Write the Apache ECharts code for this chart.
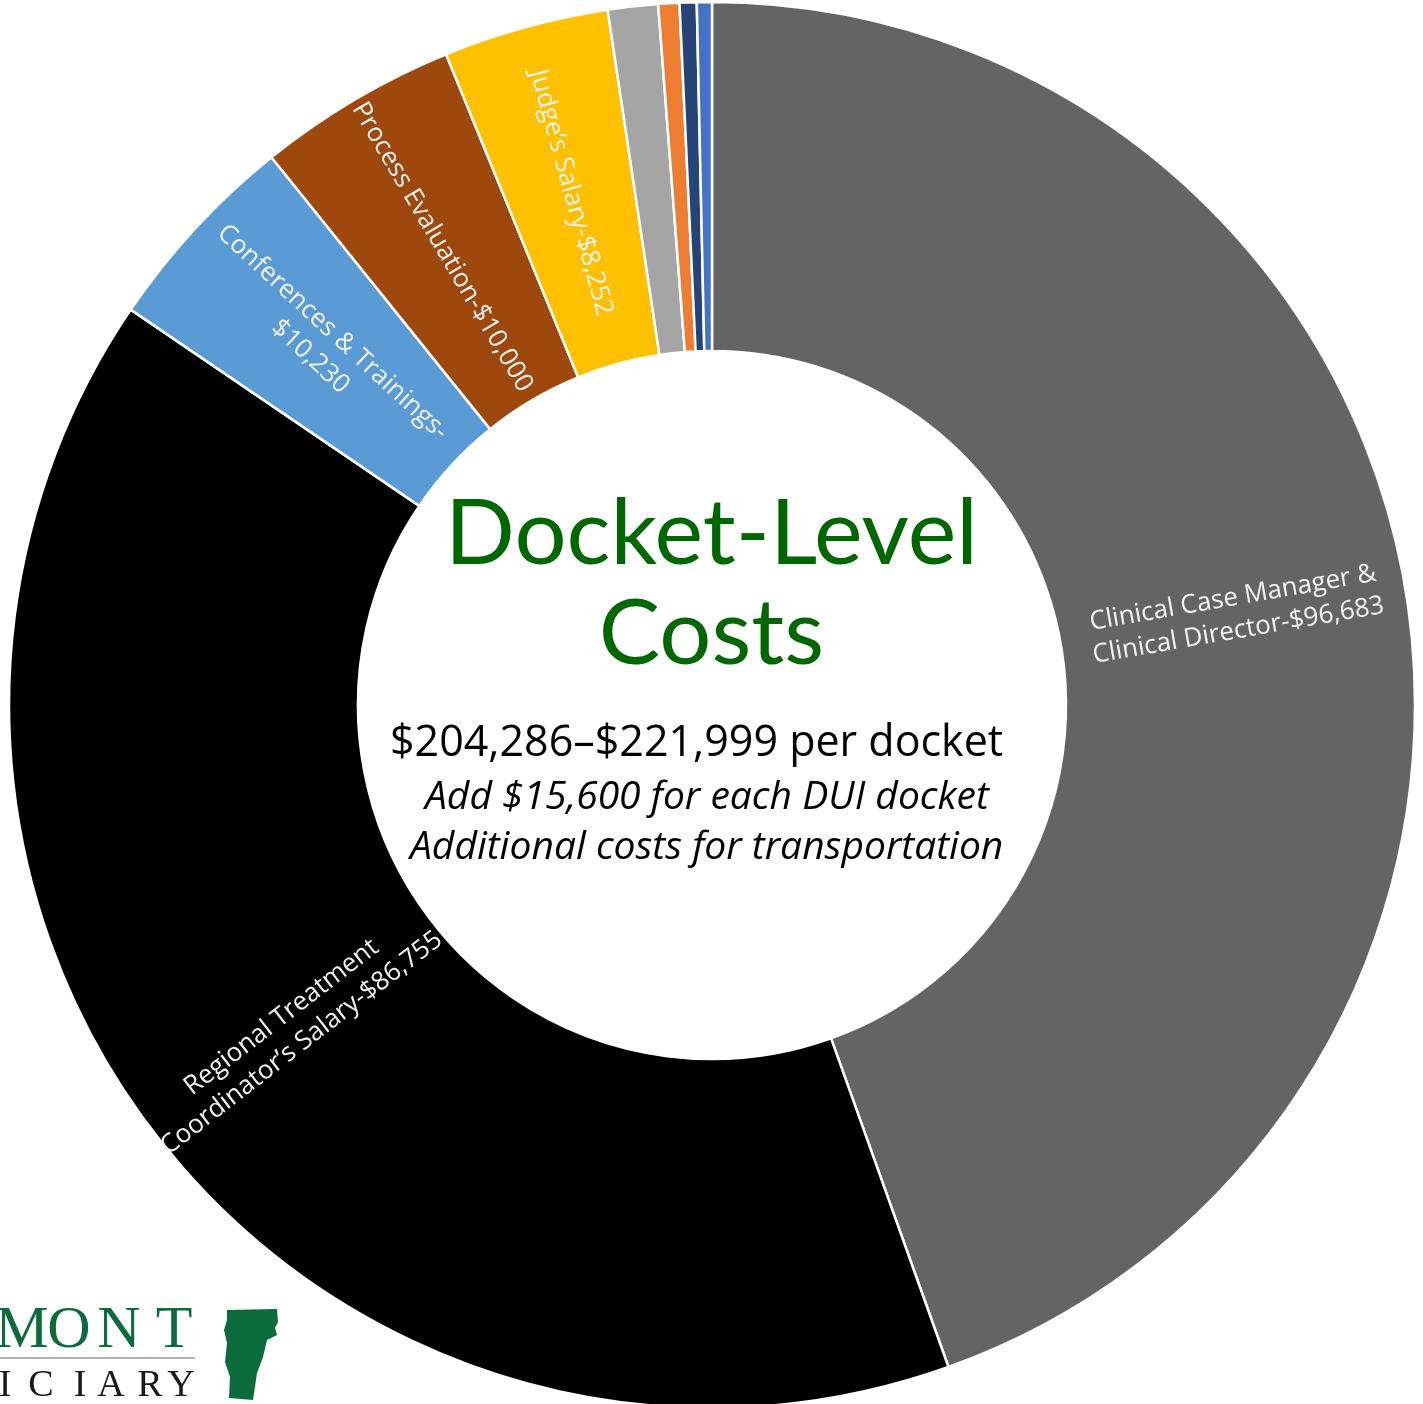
<!DOCTYPE html>
<html>
<head>
<meta charset="utf-8">
<script src="https://cdn.jsdelivr.net/npm/echarts@6/dist/echarts.min.js"></script>
<style>
html,body{margin:0;padding:0;background:#fff;}
#chart{width:1423px;height:1404px;}
</style>
</head>
<body>
<div id="chart"></div>
<script>
// ---- data ----
const categories = [
  "Clinical Case Manager &\nClinical Director",
  "Regional Treatment\nCoordinator's Salary",
  "Conferences & Trainings",
  "Process Evaluation",
  "Judge's Salary",
  "Other cost A",
  "Other cost B",
  "Other cost C",
  "Other cost D"
];
const values = [96683, 86755, 10230, 10000, 8252, 2500, 1050, 850, 750];
const labelTexts = [
  "Clinical Case Manager &\nClinical Director-$96,683",
  "Regional Treatment\nCoordinator\u2019s Salary-$86,755",
  "Conferences & Trainings-\n$10,230",
  "Process Evaluation-$10,000",
  "Judge\u2019s Salary-$8,252",
  "", "", "", ""
];
const colors = ["#646464", "#000000", "#5B9BD5", "#9E480E", "#FFC000", "#A5A5A5", "#ED7D31", "#264478", "#4472C4"];

const titleLines = ["Docket-Level", "Costs"];
const rangeText = "$204,286\u2013$221,999 per docket";
const noteLines = ["Add $15,600 for each DUI docket", "Additional costs for transportation"];
const logoTop = ["M", "O", "N", "T"];
const logoBottom = ["I", "C", "I", "A", "R", "Y"];

const chart = echarts.init(document.getElementById('chart'), null, {renderer: 'canvas'});

const cx = 712, cy = 705;

const topX = [22, 69, 119, 174];
const botX = [5, 41, 80, 111, 150, 181];
const logoGraphics = [];
logoTop.forEach((ch, i) => logoGraphics.push({type: 'text', x: topX[i], y: 1301, style: {text: ch, font: '400 60px "Liberation Serif"', fill: '#0b6b3a', align: 'center'}}));
logoBottom.forEach((ch, i) => logoGraphics.push({type: 'text', x: botX[i], y: 1367, style: {text: ch, font: '400 38px "Liberation Serif"', fill: '#1a1a1a', align: 'center'}}));

const option = {
  animation: false,
  backgroundColor: '#ffffff',
  series: [{
    type: 'pie',
    center: [cx, cy],
    radius: [354, 703],
    startAngle: 90,
    clockwise: true,
    avoidLabelOverlap: false,
    itemStyle: {borderColor: '#ffffff', borderWidth: 2.5},
    label: {
      show: true,
      position: 'inside',
      rotate: 'radial',
      color: '#f2f2f2',
      fontFamily: 'Open Sans',
      fontSize: 26,
      lineHeight: 33,
      align: 'center',
      formatter: p => labelTexts[p.dataIndex]
    },
    labelLine: {show: false},
    emphasis: {disabled: true},
    data: categories.map((c, i) => ({
      name: c,
      value: values[i],
      itemStyle: {color: colors[i]},
      label: {show: labelTexts[i] !== ""}
    }))
  }],
  graphic: [
    {type: 'text', left: 'center', top: 488, style: {text: titleLines[0], font: '400 92px Lato', fill: '#006600'}},
    {type: 'text', left: 'center', top: 588, style: {text: titleLines[1], font: '400 92px Lato', fill: '#006600'}},
    {type: 'text', left: 390, top: 722, style: {text: rangeText, font: '400 43px "Open Sans"', fill: '#000000'}},
    {type: 'text', left: 425, top: 778, style: {text: noteLines[0], font: 'italic 400 39px "Open Sans"', fill: '#000000'}},
    {type: 'text', left: 410, top: 828, style: {text: noteLines[1], font: 'italic 400 39px "Open Sans"', fill: '#000000'}},
    {type: 'line', shape: {x1: 0, y1: 1358, x2: 195, y2: 1358}, style: {stroke: '#9a9a9a', lineWidth: 1.5}},
    {type: 'polygon', shape: {points: [[227,1310],[277,1309],[278,1322],[275,1328],[277,1335],[267,1340],[263,1357],[257,1373],[253,1400],[229,1398],[230,1377],[225,1362],[227,1343],[224,1330],[227,1320]]}, style: {fill: '#0b6b3a'}}
  ].concat(logoGraphics)
};
chart.setOption(option);
</script>
</body>
</html>
